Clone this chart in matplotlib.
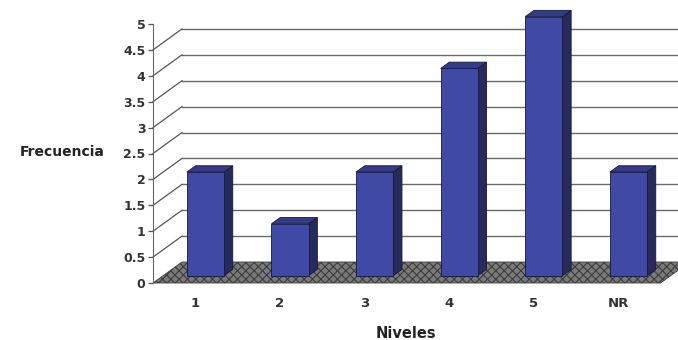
import matplotlib
matplotlib.use("Agg")
import matplotlib.pyplot as plt
from matplotlib.patches import Polygon

# Frequency of answers per level
niveles = ["1", "2", "3", "4", "5", "NR"]
frecuencia = [2, 1, 2, 4, 5, 2]
y_ticks = [0, 0.5, 1, 1.5, 2, 2.5, 3, 3.5, 4, 4.5, 5]
y_tick_labels = ["0", "0.5", "1", "1.5", "2", "2.5", "3", "3.5", "4", "4.5", "5"]

plt.rcParams["hatch.linewidth"] = 0.8

fig = plt.figure(figsize=(6.78, 3.40), dpi=100)
ax = fig.add_axes([0, 0, 1, 1])
ax.set_facecolor("white")

px_per_cat = 84.6
px_per_val = 51.8
ax.set_xlim(-153 / px_per_cat, (678 - 153) / px_per_cat)
ax.set_ylim(-57 / px_per_val, 283 / px_per_val)

# oblique depth offset (full depth of the box) in data units
DX = 29 / px_per_cat
DY = 21 / px_per_val
n = len(niveles)


def P(x, v, d):
    return (x + d * DX, v + d * DY)


# floor
floor = Polygon([P(0, 0, 0), P(n, 0, 0), P(n, 0, 1), P(0, 0, 1)], closed=True,
                facecolor="#7a7a7a", edgecolor="#3c3c3c", hatch="xxxx", lw=0.6, zorder=1)
ax.add_patch(floor)

# back-wall gridlines and left-wall diagonals
for v in y_ticks[1:-1]:
    x0, y0 = P(0, v, 1)
    x1, _ = P(n + 0.3, v, 1)
    ax.plot([x0, x1], [y0, y0], color="#6a6a6a", lw=1.0, zorder=0.5)
    a = P(0, v, 0)
    b = P(0, v, 1)
    ax.plot([a[0], b[0]], [a[1], b[1]], color="#555555", lw=0.9, zorder=0.5)

# bars
hw = 0.22
d0, d1 = 0.35, 0.65
for i, val in enumerate(frecuencia):
    c = i + 0.5
    xa, xb = c - hw, c + hw
    front = [P(xa, 0, d0), P(xb, 0, d0), P(xb, val, d0), P(xa, val, d0)]
    side = [P(xb, 0, d0), P(xb, 0, d1), P(xb, val, d1), P(xb, val, d0)]
    top = [P(xa, val, d0), P(xb, val, d0), P(xb, val, d1), P(xa, val, d1)]
    ax.add_patch(Polygon(side, closed=True, facecolor="#262b5c", edgecolor="#15173a", lw=0.6, zorder=3))
    ax.add_patch(Polygon(top, closed=True, facecolor="#353c86", edgecolor="#15173a", lw=0.6, zorder=3))
    ax.add_patch(Polygon(front, closed=True, facecolor="#4049a3", edgecolor="#15173a", lw=0.6, zorder=3))

# axes: value axis on the front plane
for s in ["top", "right"]:
    ax.spines[s].set_visible(False)
ax.spines["left"].set_position(("data", 0))
ax.spines["left"].set_bounds(0, 5)
ax.spines["left"].set_color("#666666")
ax.spines["bottom"].set_position(("data", 0))
ax.spines["bottom"].set_visible(False)

ax.set_yticks(y_ticks)
ax.set_yticklabels(y_tick_labels)
ax.tick_params(axis="y", direction="out", length=3.5, width=0.9, color="#555555",
               pad=2, labelsize=9, labelcolor="#333333")
for t in ax.get_yticklabels():
    t.set_fontweight("bold")

ax.set_xticks([i + 0.5 for i in range(n)])
ax.set_xticklabels(niveles)
ax.tick_params(axis="x", length=0, pad=10, labelsize=9.5, labelcolor="#333333")
for t in ax.get_xticklabels():
    t.set_fontweight("bold")

ax.set_ylabel("Frecuencia", rotation=0, fontsize=10, fontweight="heavy", color="#222222",
              ha="center", va="center")
ax.yaxis.set_label_coords(62 / 678, 1 - 152 / 340)
ax.set_xlabel("Niveles", fontsize=10.5, fontweight="bold", color="#222222",
              ha="center", va="center")
ax.xaxis.set_label_coords(406 / 678, 1 - 333 / 340)

fig.savefig("out.png", dpi=100, facecolor="white")
